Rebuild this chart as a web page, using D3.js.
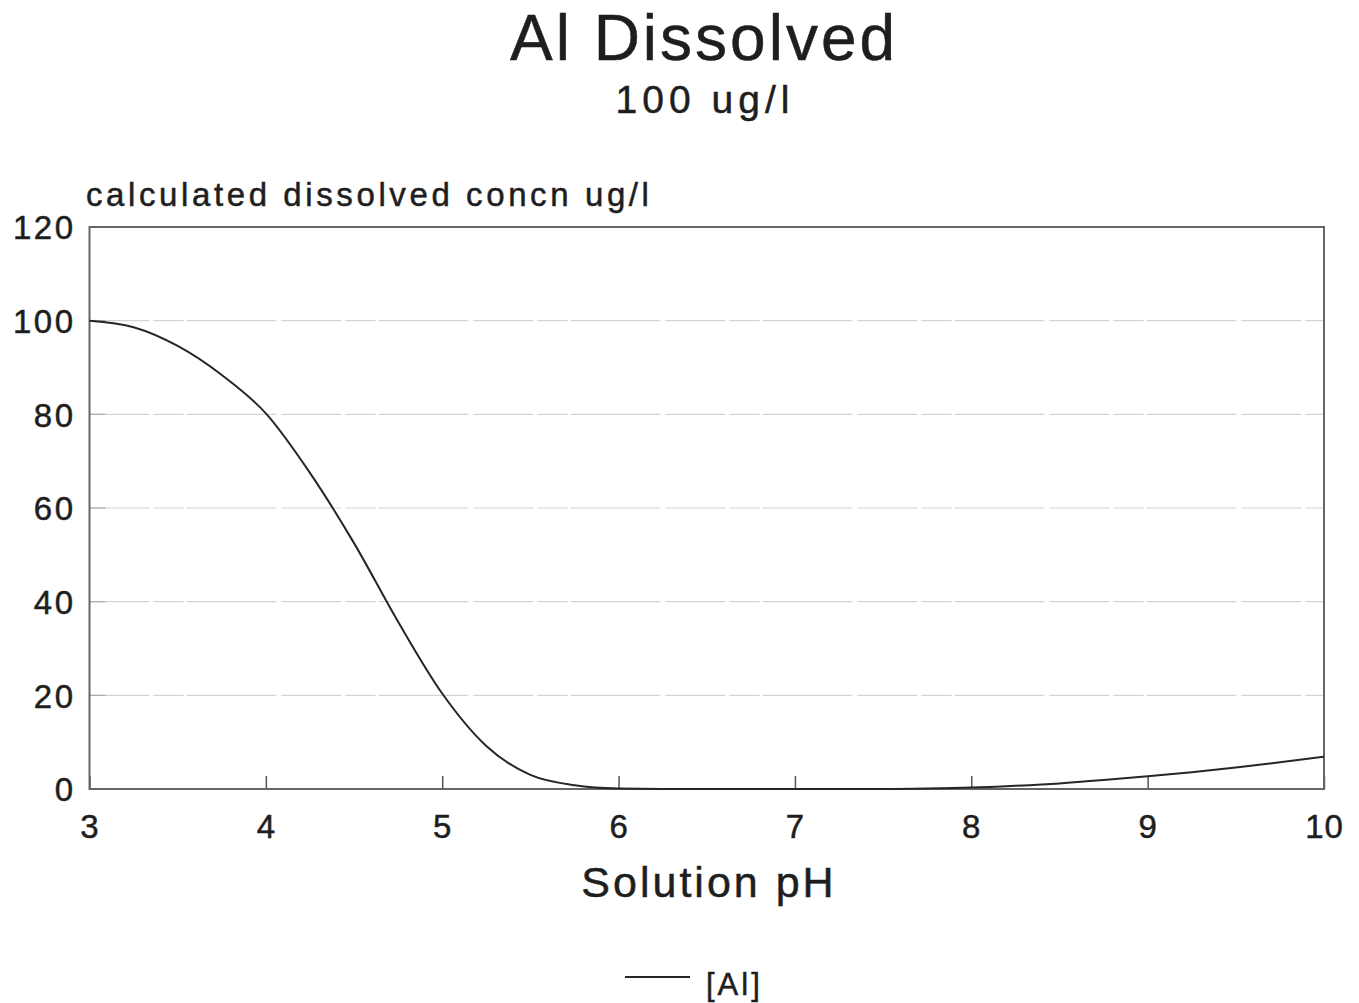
<!DOCTYPE html>
<html>
<head>
<meta charset="utf-8">
<script src="https://d3js.org/d3.v7.min.js"></script>
<style>
  body { margin: 0; background: #fff; }
  text { font-family: "Liberation Sans", Arial, sans-serif; fill: #1e1e1e; stroke: #1e1e1e; stroke-width: 0.5px; }
</style>
</head>
<body>
<script>
var width = 1359;
var height = 1003;
var margin = {top: 227, right: 35, bottom: 214, left: 89.5};

// pH values and calculated dissolved Al (ug/l)
var pH = [3, 3.25, 3.5, 3.75, 4, 4.25, 4.5, 4.75, 5, 5.25, 5.5, 5.75, 6,
          6.25, 6.5, 6.75, 7, 7.25, 7.5, 7.75, 8, 8.25, 8.5, 8.75, 9,
          9.25, 9.5, 9.75, 10];
var al = [100, 98.6, 94.6, 88.4, 80.2, 67.5, 52.5, 35.7, 20.4, 9.2, 3.0, 0.8, 0.1,
          0, 0, 0, 0, 0, 0, 0.1, 0.3, 0.7, 1.2, 1.9, 2.7,
          3.6, 4.6, 5.7, 6.9];
var xTicks = [3, 4, 5, 6, 7, 8, 9, 10];
var yTicks = [0, 20, 40, 60, 80, 100, 120];

var data = pH.map(function(p, i) { return {x: p, y: al[i]}; });

var x = d3.scaleLinear().domain([3, 10]).range([margin.left, width - margin.right]);
var y = d3.scaleLinear().domain([0, 120]).range([height - margin.bottom, margin.top]);

var svg = d3.select("body").append("svg")
  .attr("width", width)
  .attr("height", height);

// grid lines
svg.append("g")
  .selectAll("line")
  .data(yTicks.filter(function(d) { return d > 0 && d < 120; }))
  .enter().append("line")
    .attr("x1", x(3)).attr("x2", x(10))
    .attr("y1", function(d) { return y(d); })
    .attr("y2", function(d) { return y(d); })
    .attr("stroke", "#d4d4d4")
    .attr("stroke-width", 1.2)
    .attr("stroke-dasharray", "60,4,30,3,90,5");

// short inner ticks on the left
svg.append("g")
  .selectAll("line")
  .data(yTicks.filter(function(d) { return d > 0 && d < 120; }))
  .enter().append("line")
    .attr("x1", x(3)).attr("x2", x(3) + 16)
    .attr("y1", function(d) { return y(d); })
    .attr("y2", function(d) { return y(d); })
    .attr("stroke", "#aaa")
    .attr("stroke-width", 1.2);

// y axis labels
var yAxis = d3.axisLeft(y).tickValues(yTicks).tickSize(0).tickPadding(14);
var gy = svg.append("g")
  .attr("transform", "translate(" + x(3) + ",0)")
  .call(yAxis);
gy.select(".domain").remove();
gy.selectAll("text")
  .attr("font-size", 33)
  .attr("letter-spacing", 2.5)
  .attr("dy", "0.36em");

// x axis ticks (inside, pointing up) and labels
var xAxis = d3.axisBottom(x).tickValues(xTicks).tickFormat(d3.format("d"))
  .tickSizeInner(-13).tickSizeOuter(0).tickPadding(26);
var gx = svg.append("g")
  .attr("transform", "translate(0," + y(0) + ")")
  .call(xAxis);
gx.select(".domain").remove();
gx.selectAll(".tick line").attr("stroke", "#555").attr("stroke-width", 1.5);
gx.selectAll("text")
  .attr("font-size", 33)
  .attr("letter-spacing", 1);

// plot frame
svg.append("rect")
  .attr("x", x(3)).attr("y", y(120))
  .attr("width", x(10) - x(3))
  .attr("height", y(0) - y(120))
  .attr("fill", "none")
  .attr("stroke", "#666")
  .attr("stroke-width", 2);

// curve
var line = d3.line()
  .x(function(d) { return x(d.x); })
  .y(function(d) { return y(d.y); })
  .curve(d3.curveMonotoneX);

svg.append("path")
  .datum(data)
  .attr("d", line)
  .attr("fill", "none")
  .attr("stroke", "#262626")
  .attr("stroke-width", 2);

// titles
svg.append("text")
  .attr("x", 704).attr("y", 60)
  .attr("text-anchor", "middle")
  .attr("font-size", 64)
  .attr("letter-spacing", 3)
  .text("Al Dissolved");

svg.append("text")
  .attr("x", 705).attr("y", 113)
  .attr("text-anchor", "middle")
  .attr("font-size", 39)
  .attr("letter-spacing", 5)
  .text("100 ug/l");

svg.append("text")
  .attr("x", 86).attr("y", 206)
  .attr("font-size", 33)
  .attr("letter-spacing", 3.6)
  .text("calculated dissolved concn ug/l");

svg.append("text")
  .attr("x", 709).attr("y", 897)
  .attr("text-anchor", "middle")
  .attr("font-size", 43)
  .attr("letter-spacing", 3)
  .text("Solution pH");

// legend
svg.append("line")
  .attr("x1", 625).attr("x2", 690)
  .attr("y1", 977).attr("y2", 977)
  .attr("stroke", "#262626")
  .attr("stroke-width", 2);

svg.append("text")
  .attr("x", 706).attr("y", 995)
  .attr("font-size", 31)
  .attr("letter-spacing", 3)
  .text("[Al]");
</script>
</body>
</html>
